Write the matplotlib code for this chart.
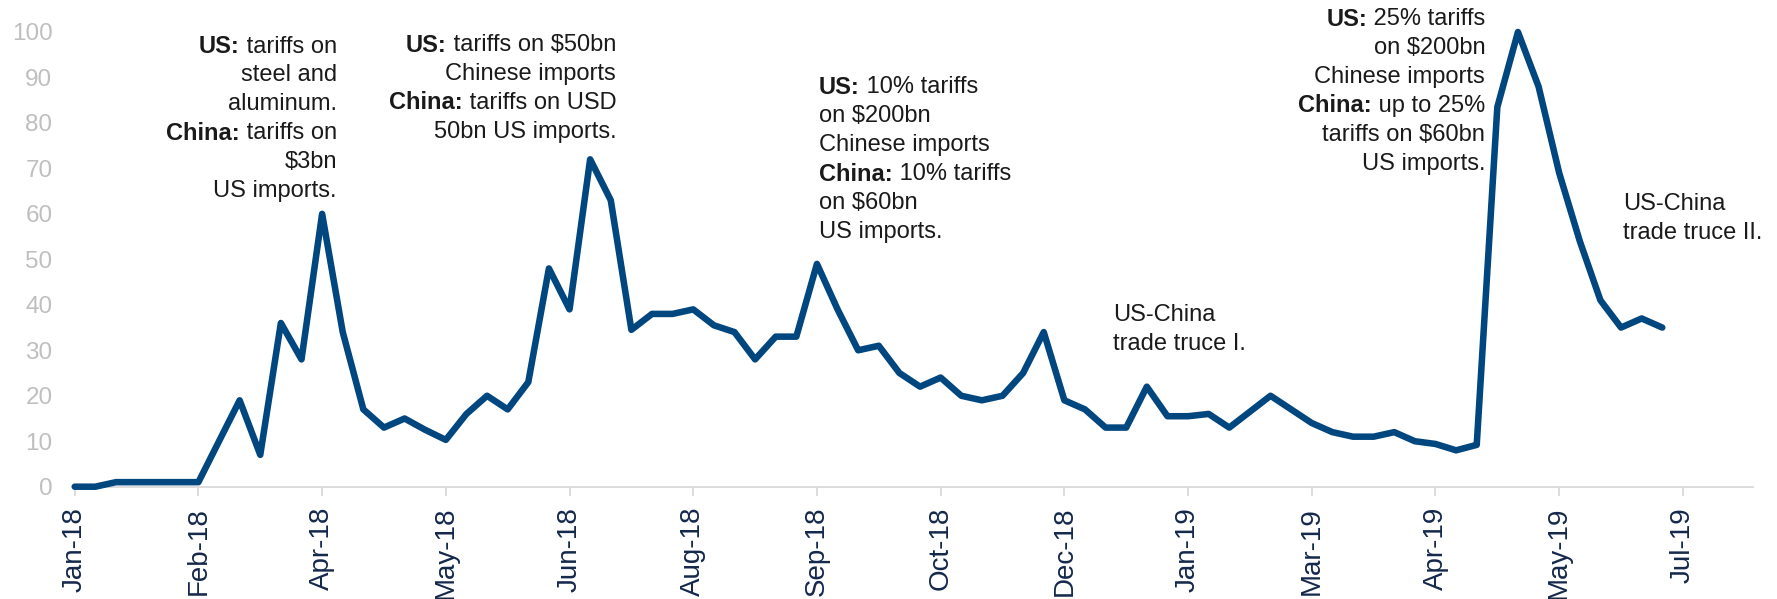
import pandas as pd
import matplotlib
matplotlib.use('Agg')
import matplotlib.pyplot as plt
import matplotlib.dates as mdates

plt.rcParams['font.family'] = ['Liberation Sans', 'DejaVu Sans']

# weekly index, first week ending 7 Jan 2018
start = '2018-01-07'
values = [0, 0, 1, 1, 1, 1, 1, 10, 19, 7, 36, 28, 60, 34, 17, 13, 15, 12.5,
          10.3, 16, 20, 17, 23, 48, 39, 72, 63, 34.5, 38, 38, 39, 35.5, 34, 28,
          33, 33, 49, 39, 30, 31, 25, 22, 24, 20, 19, 20, 25, 34, 19, 17, 13,
          13, 22, 15.5, 15.5, 16, 13, 16.5, 20, 17, 14, 12, 11, 11, 12, 10,
          9.4, 8, 9.2, 83.5, 100, 88, 69, 54, 41, 35, 37, 35]
y_ticks = [0, 10, 20, 30, 40, 50, 60, 70, 80, 90, 100]

# annotations: (week index, value, alignment, lines of (text, bold))
notes = [
    (12.71, 96.8, 'right', [
        [('US:', True), (' tariffs on', False)],
        [('steel and', False)],
        [('aluminum.', False)],
        [('China:', True), (' tariffs on', False)],
        [('$3bn', False)],
        [('US imports.', False)]]),
    (26.26, 97.1, 'right', [
        [('US:', True), (' tariffs on $50bn', False)],
        [('Chinese imports', False)],
        [('China:', True), (' tariffs on USD', False)],
        [('50bn US imports.', False)]]),
    (36.1, 87.8, 'left', [
        [('US:', True), (' 10% tariffs', False)],
        [('on $200bn', False)],
        [('Chinese imports', False)],
        [('China:', True), (' 10% tariffs', False)],
        [('on $60bn', False)],
        [('US imports.', False)]]),
    (50.38, 37.8, 'left', [
        [('US-China', False)],
        [('trade truce I.', False)]]),
    (68.41, 102.8, 'right', [
        [('US:', True), (' 25% tariffs', False)],
        [('on $200bn', False)],
        [('Chinese imports', False)],
        [('China:', True), (' up to 25%', False)],
        [('tariffs on $60bn', False)],
        [('US imports.', False)]]),
    (75.09, 62.2, 'left', [
        [('US-China', False)],
        [('trade truce II.', False)]]),
]

LINE_STEP = 20.8  # points between annotation lines
TXT = '#1A1A1A'


def note(ax, x, y, lines, ha):
    for k, segs in enumerate(lines):
        order = segs if ha == 'left' else segs[::-1]
        prev = None
        for txt, bold in order:
            kw = dict(ha=ha, va='center', fontsize=17, color=TXT,
                      fontweight='bold' if bold else 'normal',
                      annotation_clip=False)
            if prev is None:
                prev = ax.annotate(txt, xy=(x, y), xytext=(0, -k * LINE_STEP),
                                   textcoords='offset points', **kw)
            else:
                ref = (1, 0.5) if ha == 'left' else (0, 0.5)
                prev = ax.annotate(txt, xy=ref, xycoords=prev, **kw)


def main():
    dates = pd.date_range(start, periods=len(values), freq='7D')
    tick_dates = pd.date_range(start, periods=14, freq='42D')
    x0 = mdates.date2num(dates[0])

    fig = plt.figure(figsize=(17.77, 5.99), dpi=100)
    ax = fig.add_axes([74.7 / 1777, 112.3 / 599, (1753 - 74.7) / 1777, (567 - 112.3) / 599])

    ax.plot(dates, values, color='#00467F', lw=4.7, solid_joinstyle='round',
            solid_capstyle='round', clip_on=False, zorder=3)

    ax.set_xlim(x0, x0 + 81.4 * 7)
    ax.set_ylim(0, 100)
    ax.set_yticks(y_ticks)
    ax.set_xticks(tick_dates)
    ax.set_xticklabels([d.strftime('%b-%y') for d in tick_dates], rotation=90)

    for s in ['top', 'right', 'left']:
        ax.spines[s].set_visible(False)
    ax.spines['bottom'].set_color('#D9D9D9')
    ax.spines['bottom'].set_linewidth(1.3)

    ax.tick_params(axis='x', direction='out', length=6.5, width=1.3, color='#D9D9D9',
                   labelsize=20, labelcolor='#14284B', pad=8)
    ax.tick_params(axis='y', length=0, labelsize=17.5, labelcolor='#BFBFBF', pad=16)

    for idx, val, ha, lines in notes:
        note(ax, x0 + idx * 7, val, lines, ha)

    fig.savefig('out.png', dpi=100)


if __name__ == '__main__':
    main()
